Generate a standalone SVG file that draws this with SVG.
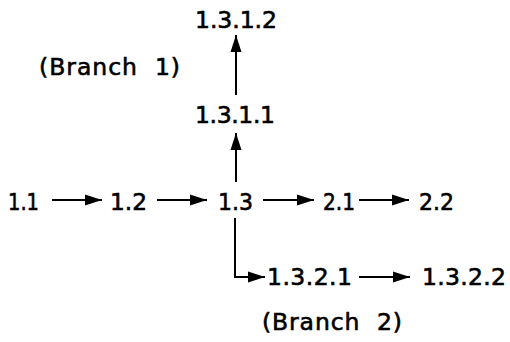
<svg xmlns="http://www.w3.org/2000/svg" width="510" height="342" viewBox="0 0 510 342">
<style>
text{font-family:"DejaVu Sans","Liberation Sans",sans-serif;font-size:23.5px;fill:#000;stroke:#000;stroke-width:0.6;white-space:pre}
.c line,.c path{stroke:#000;stroke-width:2;fill:none}
</style>
<defs>
<marker id="ah" markerUnits="userSpaceOnUse" markerWidth="18" markerHeight="12" refX="17" refY="6" orient="auto">
<path d="M0,0.5 L17,6 L0,11.5 Z" fill="#000"/>
</marker>
</defs>
<rect width="510" height="342" fill="#fff"/>
<g class="c" id="connectors">
<line x1="52" y1="200" x2="102" y2="200" marker-end="url(#ah)"/>
<line x1="157" y1="200" x2="207" y2="200" marker-end="url(#ah)"/>
<line x1="263" y1="200" x2="314" y2="200" marker-end="url(#ah)"/>
<line x1="359" y1="200" x2="409" y2="200" marker-end="url(#ah)"/>
<line x1="236" y1="182" x2="236" y2="133" marker-end="url(#ah)"/>
<line x1="236" y1="95" x2="236" y2="35" marker-end="url(#ah)"/>
<path d="M235,218 V277 H265" marker-end="url(#ah)"/>
<line x1="359" y1="277" x2="410" y2="277" marker-end="url(#ah)"/>
</g>
<g id="n11"><text x="8" y="210" textLength="31" lengthAdjust="spacingAndGlyphs">1.1</text></g>
<g id="n12"><text x="110" y="210" textLength="37" lengthAdjust="spacingAndGlyphs">1.2</text></g>
<g id="n13"><text x="218" y="210" textLength="35" lengthAdjust="spacingAndGlyphs">1.3</text></g>
<g id="n21"><text x="323" y="210" textLength="32" lengthAdjust="spacingAndGlyphs">2.1</text></g>
<g id="n22"><text x="419" y="210" textLength="35" lengthAdjust="spacingAndGlyphs">2.2</text></g>
<g id="n1311"><text x="195" y="123" textLength="80">1.3.1.1</text></g>
<g id="n1312"><text x="195" y="28" textLength="82">1.3.1.2</text></g>
<g id="n1321"><text x="267" y="285" textLength="85">1.3.2.1</text></g>
<g id="n1322"><text x="422" y="285" textLength="84">1.3.2.2</text></g>
<g id="b1"><text x="39" y="75" textLength="141">(Branch  1)</text></g>
<g id="b2"><text x="262" y="330" textLength="140">(Branch  2)</text></g>
</svg>
